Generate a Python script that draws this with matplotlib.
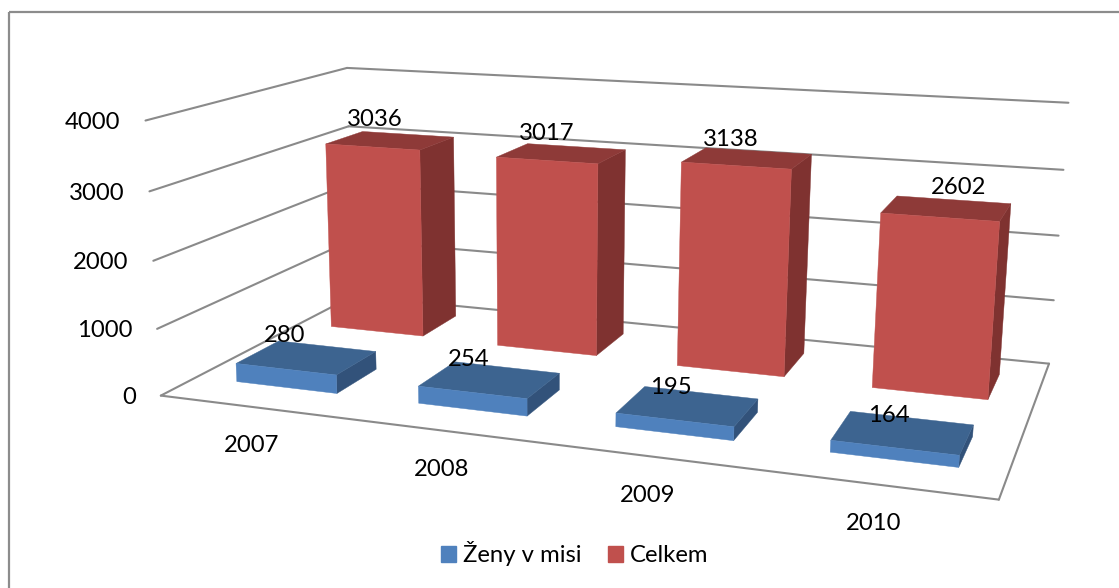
import numpy as np
from matplotlib import pyplot as plt
from matplotlib.patches import Patch, Rectangle

plt.rcParams['font.family'] = ['Lato', 'DejaVu Sans']

years = ['2007', '2008', '2009', '2010']
zeny = [280, 254, 195, 164]
celkem = [3036, 3017, 3138, 2602]
ticks = [0, 1000, 2000, 3000, 4000]
zmax = 4000

# where the box corners of the excel 3d chart land in the picture (x, depth, z) -> px
anchors = [
    ((0, 0, 0), (163, 394)), ((0, 0, .25), (158, 328)), ((0, 0, .5), (154, 261)),
    ((0, 0, .75), (148, 192)), ((0, 0, 1), (143, 121)),
    ((0, 1, 0), (350, 298)), ((0, 1, .75), (349, 126)), ((0, 1, 1), (350, 67)),
    ((1, 1, 0), (1050, 362)), ((1, 1, .25), (1054, 300)), ((1, 1, .5), (1058, 236)),
    ((1, 1, .75), (1063, 170)), ((1, 1, 1), (1068, 103)),
    ((1, 0, 0), (999, 501)),
]


def fit_camera(pairs):
    rows, rhs = [], []
    for (x, y, z), (px, py) in pairs:
        rows.append([x, y, z, 1, 0, 0, 0, 0, -px * x, -px * y, -px * z])
        rhs.append(px)
        rows.append([0, 0, 0, 0, x, y, z, 1, -py * x, -py * y, -py * z])
        rhs.append(py)
    m = np.linalg.lstsq(np.array(rows, float), np.array(rhs, float), rcond=None)[0]
    return np.append(m, 1).reshape(3, 4)


camera = fit_camera(anchors)


def project(x, y, z):
    p = camera @ np.array([x, y, z, 1.0])
    return p[0] / p[2], p[1] / p[2]


def line3d(ax, a, b, **kw):
    pa, pb = project(*a), project(*b)
    ax.plot([pa[0], pb[0]], [pa[1], pb[1]], **kw)


def box(ax, x0, x1, y0, y1, h, colors):
    front, side, top = colors
    for pts, c in [
        ([(x1, y0, 0), (x1, y1, 0), (x1, y1, h), (x1, y0, h)], side),
        ([(x0, y0, h), (x1, y0, h), (x1, y1, h), (x0, y1, h)], top),
        ([(x0, y0, 0), (x1, y0, 0), (x1, y0, h), (x0, y0, h)], front),
    ]:
        xy = [project(*p) for p in pts]
        ax.fill([q[0] for q in xy], [q[1] for q in xy], color=c, lw=0.3, zorder=3)


fig = plt.figure(figsize=(11.19, 5.88), dpi=100)
ax = fig.add_axes([0, 0, 1, 1])
ax.set_xlim(0, 1119)
ax.set_ylim(588, 0)
ax.axis('off')

# only the left and top of the frame are inside the picture
ax.add_patch(Rectangle((8.5, 11.5), 1300, 700, fill=False, ec='#8c8c8c', lw=1.6))

grid = dict(color='#8a8a8a', lw=1.5, solid_capstyle='round', zorder=2)
for t in ticks:
    z = t / zmax
    line3d(ax, (0, 0, z), (0, 1, z), **grid)
    line3d(ax, (0, 1, z), (1, 1, z), **grid)
    px, py = project(0, 0, z)
    ax.text(px - 25, py + 2, str(t), ha='right', va='center', fontsize=17.2, zorder=5)
line3d(ax, (0, 0, 0), (1, 0, 0), **grid)
line3d(ax, (1, 0, 0), (1, 1, 0), **grid)

red = ('#c0504d', '#7f3230', '#8e3a38')
blue = ('#4f81bd', '#32527a', '#3d6490')
half = 0.070
for i in range(len(years)):
    c = 0.1185 + 0.2525 * i
    # the red row drifts a little towards the viewer on the right
    drift = 0.012 * i
    box(ax, c - half, c + half, 0.685 - drift, 0.90 - drift, celkem[i] / zmax, red)
for i in range(len(years)):
    c = (i + 0.51) / 4
    box(ax, c - half, c + half, 0.16, 0.37, zeny[i] / zmax, blue)

# label spots, excel puts them by its own rules
red_labels = [(375, 120), (547, 134), (731, 139), (959, 188)]
blue_labels = [(285, 336), (469, 360), (671, 388), (889, 415)]
year_labels = [(252, 445), (442, 470), (648, 495), (874, 524)]
for vals, spots in [(celkem, red_labels), (zeny, blue_labels), (years, year_labels)]:
    for v, (x, y) in zip(vals, spots):
        ax.text(x, y, str(v), ha='center', va='center', fontsize=17.2, zorder=5)

ax.legend(handles=[Patch(color=blue[0], label='Ženy v misi'), Patch(color=red[0], label='Celkem')],
          loc='center', bbox_to_anchor=(574.5, 554), bbox_transform=ax.transData, ncol=2,
          frameon=False, fontsize=17.2, handlelength=0.64, handleheight=0.64,
          handletextpad=0.27, columnspacing=1.1)

fig.savefig('out.png', dpi=100)
